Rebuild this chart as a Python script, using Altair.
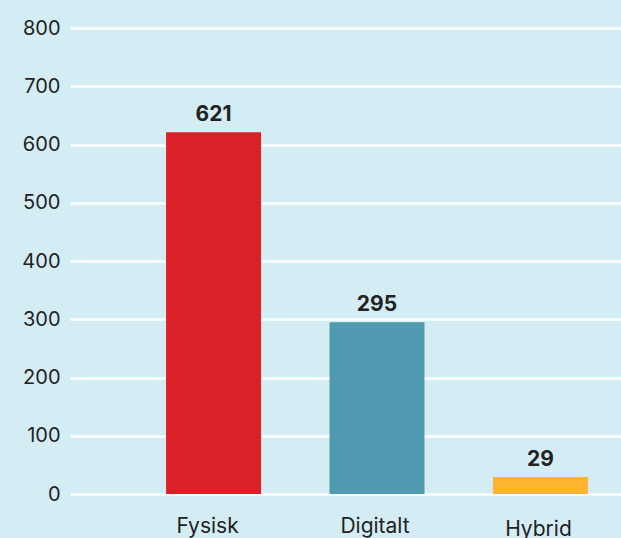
import altair as alt
import pandas as pd

categories = ["Fysisk", "Digitalt", "Hybrid"]
values = [621, 295, 29]
colors = ["#db2128", "#4f9ab0", "#fdb42f"]

df = pd.DataFrame({"kategori": categories, "antal": values, "farve": colors})

x = alt.X(
    "kategori:N",
    sort=categories,
    scale=alt.Scale(paddingInner=0.419, paddingOuter=0.395, align=0.744),
    axis=alt.Axis(
        title=None, labelAngle=0, domain=False, ticks=False,
        labelFont="Inter", labelFontSize=21, labelColor="#222222",
        labelPadding={"condition": {"test": "datum.value === 'Hybrid'", "value": 24}, "value": 21},
        labelOffset={"condition": {"test": "datum.value === 'Fysisk'", "value": -6}, "value": -2},
        grid=False,
    ),
)
y = alt.Y(
    "antal:Q",
    scale=alt.Scale(domain=[0, 800], nice=False),
    axis=alt.Axis(
        title=None, values=[0, 100, 200, 300, 400, 500, 600, 700, 800],
        domain=False, ticks=False, labelFont="Inter", labelFontSize=20,
        labelColor="#222222", labelPadding=10, grid=True,
        gridColor="#ffffff", gridWidth=2.5,
    ),
)

base = alt.Chart(df).encode(x=x, y=y)

bars = base.mark_bar().encode(color=alt.Color("farve:N", scale=None))
labels = base.mark_text(
    baseline="alphabetic", dy=-11, font="Inter", fontSize=21, fontWeight="bold",
    color="#222222",
).encode(text="antal:Q")

chart = (
    (bars + labels)
    .properties(
        width=551, height=466,
        autosize=alt.AutoSizeParams(type="none"),
        padding={"left": 70, "top": 28, "right": 0, "bottom": 44},
        background="#d4edf4",
    )
    .configure_view(stroke=None, fill="#d4edf4")
)

chart.save("out.html", embed_options={"renderer": "svg", "actions": False})
